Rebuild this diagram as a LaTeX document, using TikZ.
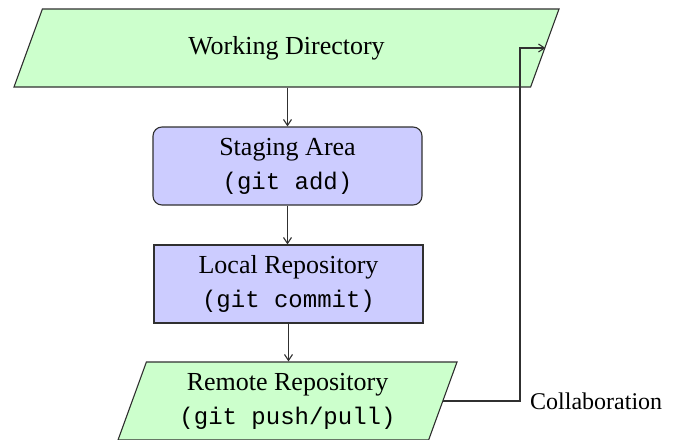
\documentclass[tikz,border=0pt]{standalone}
\usepackage{fontspec}
\setmainfont{Liberation Serif}
\setmonofont{Liberation Mono}
\usepackage{tikz}
\usetikzlibrary{arrows.meta, shapes.geometric}
\usepackage{xcolor}
\definecolor{repogreen}{HTML}{CCFFCC}
\definecolor{stagepurple}{HTML}{CCCCFF}
\definecolor{edgegray}{HTML}{303030}

% fixed-height text block, so the slanted shapes keep their angle
\newcommand{\slantbody}[1]{\parbox[c][78pt][c]{220pt}{\centering #1}}

\begin{document}
\begin{tikzpicture}[x=1pt, y=-1pt,
    box/.style={draw=edgegray, line width=1.1pt, minimum width=269pt, minimum height=78pt,
        align=center, inner sep=0pt, fill=stagepurple, font=\fontsize{26}{34}\selectfont},
    slanted/.style={box, trapezium, trapezium left angle=70, trapezium right angle=110,
        trapezium stretches body=true, minimum height=0pt, fill=repogreen},
    flow/.style={-{Straight Barb[length=6pt, width=8pt]}, line width=1.1pt, edgegray}
]
    \useasboundingbox (0,0) rectangle (674,439);

    % the four stages, top to bottom
    \node[slanted, minimum width=545pt] (wd) at (286.5,48) {\slantbody{Working Directory}};
    \node[box, rounded corners=9pt] (stage) at (287.5,166)
        {Staging Area\\{\fontsize{24}{34}\selectfont\texttt{(git add)}}};
    \node[box] (local) at (288.5,284)
        {Local Repository\\{\fontsize{24}{34}\selectfont\texttt{(git commit)}}};
    \node[slanted, minimum width=339pt] (remote) at (287.5,401)
        {\slantbody{Remote Repository\\{\fontsize{24}{34}\selectfont\texttt{(git push/pull)}}}};

    % main flow
    \draw[flow] (stage.north |- wd.south) -- (stage.north);
    \draw[flow] (stage.south) -- (stage.south |- local.north);
    \draw[flow] (local.south) -- (local.south |- remote.north);

    % feedback loop back to the working directory
    \coordinate (turn) at (520,0);
    \draw[flow] (remote.east) -- (remote.east -| turn) |- (wd.east);
    \node[anchor=west, font=\fontsize{24}{30}\selectfont, inner sep=0pt] (collab)
        at ([xshift=10pt]remote.east -| turn) {Collaboration};
\end{tikzpicture}
\end{document}
